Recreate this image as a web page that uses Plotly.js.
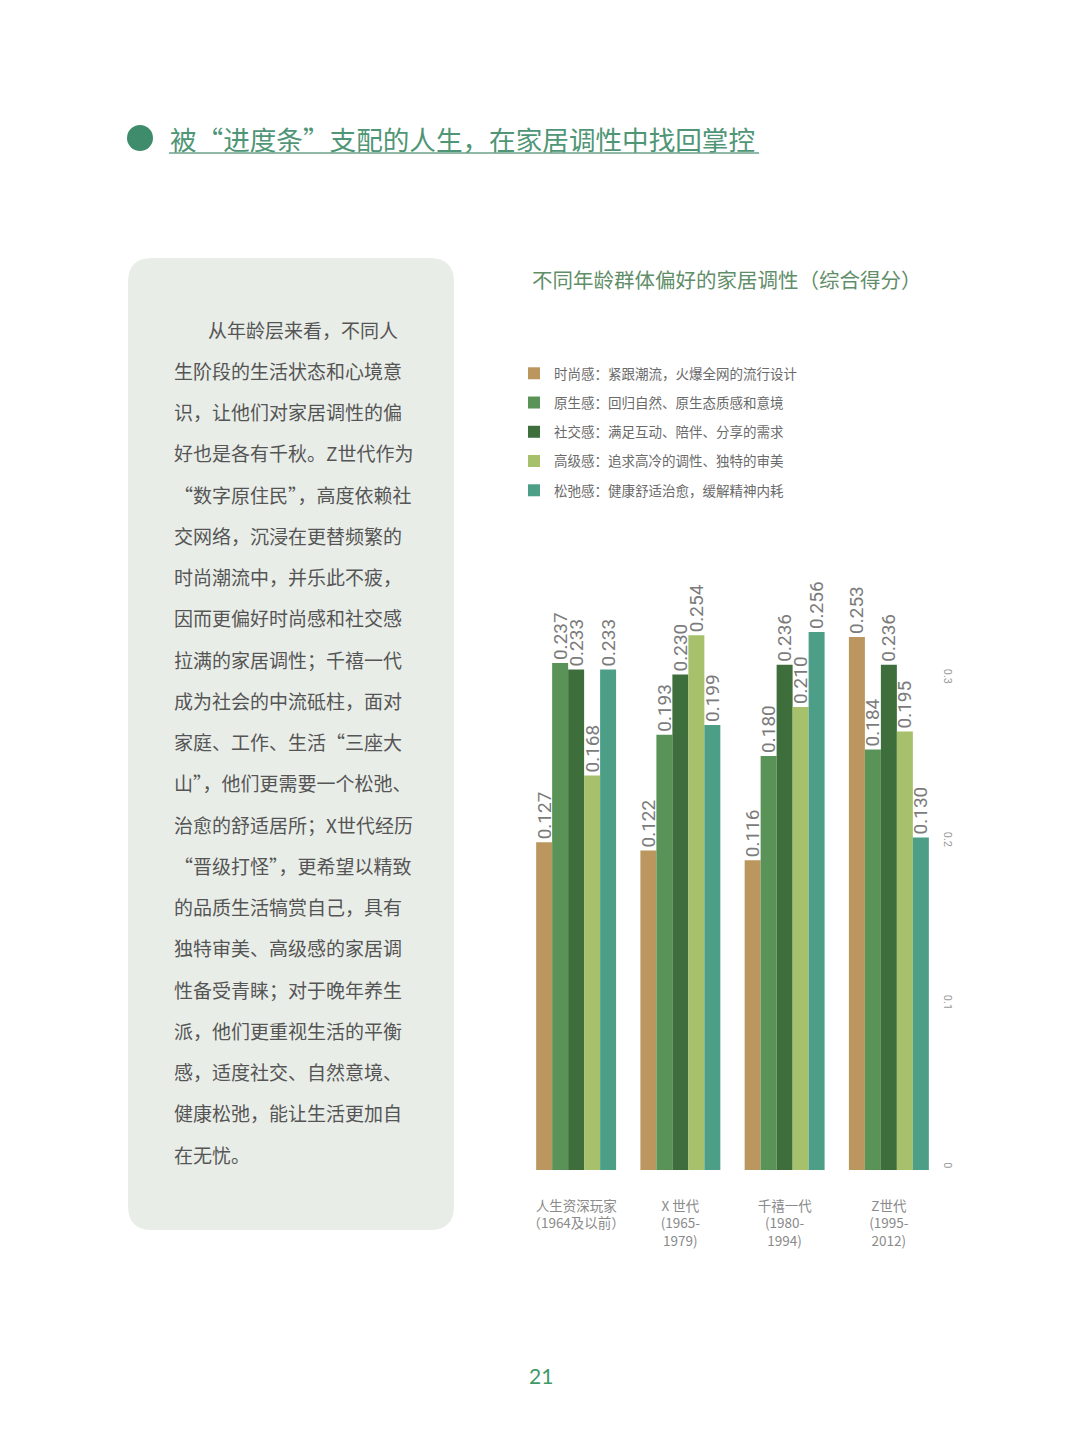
<!DOCTYPE html>
<html>
<head>
<meta charset="utf-8">
<script src="https://cdn.plot.ly/plotly-3.0.1.min.js"></script>
<style>
  html, body { margin: 0; padding: 0; background: #ffffff; }
  #chart { width: 1080px; height: 1439px; }
</style>
</head>
<body>
<div id="chart"></div>
<script>
// age groups (x categories)
var categories = [
  '人生资深玩家<br>（1964及以前）',
  'X 世代<br>(1965-<br>1979)',
  '千禧一代<br>(1980-<br>1994)',
  'Z世代<br>(1995-<br>2012)'
];

// scores per tonality, in category order
var fashion = [0.127, 0.122, 0.116, 0.253];
var natural = [0.237, 0.193, 0.180, 0.184];
var social  = [0.233, 0.230, 0.236, 0.236];
var premium = [0.168, 0.254, 0.210, 0.195];
var relaxed = [0.233, 0.199, 0.256, 0.130];

var seriesNames = [
  '时尚感：紧跟潮流，火爆全网的流行设计',
  '原生感：回归自然、原生态质感和意境',
  '社交感：满足互动、陪伴、分享的需求',
  '高级感：追求高冷的调性、独特的审美',
  '松弛感：健康舒适治愈，缓解精神内耗'
];
var seriesColors = ['#bb975f', '#5a9358', '#3e6e3c', '#a6c06c', '#4d9e86'];

var axisTicks = [0, 0.1, 0.2, 0.3];

var paragraph = [
  '从年龄层来看，不同人',
  '生阶段的生活状态和心境意',
  '识，让他们对家居调性的偏',
  '好也是各有千秋。Z世代作为',
  '“数字原住民”，高度依赖社',
  '交网络，沉浸在更替频繁的',
  '时尚潮流中，并乐此不疲，',
  '因而更偏好时尚感和社交感',
  '拉满的家居调性；千禧一代',
  '成为社会的中流砥柱，面对',
  '家庭、工作、生活“三座大',
  '山”，他们更需要一个松弛、',
  '治愈的舒适居所；X世代经历',
  '“晋级打怪”，更希望以精致',
  '的品质生活犒赏自己，具有',
  '独特审美、高级感的家居调',
  '性备受青睐；对于晚年养生',
  '派，他们更重视生活的平衡',
  '感，适度社交、自然意境、',
  '健康松弛，能让生活更加自',
  '在无忧。'
];

var W = 1080, H = 1439;
function px(x) { return x / W; }
function py(y) { return 1 - y / H; }

// the original bars start below the printed zero
var BAR_BASE = -0.074;

var cjk = '"Noto Sans CJK SC", "Noto Sans", sans-serif';

var allSeries = [fashion, natural, social, premium, relaxed];
var data = allSeries.map(function (vals, i) {
  return {
    type: 'bar',
    x: categories,
    y: vals.map(function (v) { return v - BAR_BASE; }),
    base: BAR_BASE,
    name: seriesNames[i],
    legendgroup: 'g' + i,
    text: vals.map(function (v) { return v.toFixed(3); }),
    textposition: 'outside',
    textangle: -90,
    constraintext: 'none',
    cliponaxis: false,
    textfont: { family: 'Roboto, sans-serif', size: 19, color: '#7b7b7b' },
    marker: { color: seriesColors[i] },
    hoverinfo: 'skip'
  };
});

// empty trace so the right-hand score axis is drawn
data.push({
  type: 'scatter', x: [categories[0]], y: [null], yaxis: 'y2',
  showlegend: false, hoverinfo: 'skip', mode: 'markers'
});

var annotations = [
  {
    text: '被“进度条”支配的人生，在家居调性中找回掌控',
    xref: 'paper', yref: 'paper', x: px(168), y: py(138),
    xanchor: 'left', yanchor: 'middle', showarrow: false,
    font: { family: cjk, size: 26.6, color: '#4f9676' }
  },
  {
    text: '不同年龄群体偏好的家居调性（综合得分）',
    xref: 'paper', yref: 'paper', x: px(530), y: py(279),
    xanchor: 'left', yanchor: 'middle', showarrow: false,
    font: { family: cjk, size: 20.5, color: '#5f8e69' }
  },
  {
    text: '21',
    xref: 'paper', yref: 'paper', x: px(541), y: py(1375),
    xanchor: 'center', yanchor: 'middle', showarrow: false,
    font: { family: 'Lato, sans-serif', size: 21, color: '#3f9a68' }
  }
];

paragraph.forEach(function (line, i) {
  annotations.push({
    text: line,
    xref: 'paper', yref: 'paper',
    x: px(i === 0 ? 206 : 172), y: py(329 + i * 41.25),
    xanchor: 'left', yanchor: 'middle', showarrow: false,
    font: { family: cjk, size: 19, color: '#555555' }
  });
});

// rounded text panel
function roundedRect(x0, y0, x1, y1, r) {
  return 'M' + px(x0 + r) + ',' + py(y0) +
    ' L' + px(x1 - r) + ',' + py(y0) +
    ' Q' + px(x1) + ',' + py(y0) + ' ' + px(x1) + ',' + py(y0 + r) +
    ' L' + px(x1) + ',' + py(y1 - r) +
    ' Q' + px(x1) + ',' + py(y1) + ' ' + px(x1 - r) + ',' + py(y1) +
    ' L' + px(x0 + r) + ',' + py(y1) +
    ' Q' + px(x0) + ',' + py(y1) + ' ' + px(x0) + ',' + py(y1 - r) +
    ' L' + px(x0) + ',' + py(y0 + r) +
    ' Q' + px(x0) + ',' + py(y0) + ' ' + px(x0 + r) + ',' + py(y0) + ' Z';
}

var shapes = [
  {
    type: 'path', xref: 'paper', yref: 'paper', layer: 'below',
    path: roundedRect(128, 258, 454, 1230, 24),
    fillcolor: '#e9ede8', line: { width: 0 }
  },
  {
    type: 'circle', xref: 'paper', yref: 'paper',
    x0: px(127), x1: px(153), y0: py(125), y1: py(151),
    fillcolor: '#3f8c6c', line: { width: 0 }
  },
  {
    type: 'line', xref: 'paper', yref: 'paper',
    x0: px(169), x1: px(759), y0: py(153), y1: py(153),
    line: { color: '#6aa088', width: 1.5 }
  }
];

var layout = {
  width: W, height: H,
  margin: { l: 0, r: 0, t: 0, b: 0 },
  paper_bgcolor: '#ffffff',
  plot_bgcolor: 'rgba(0,0,0,0)',
  barmode: 'group',
  bargap: 0.233,
  bargroupgap: 0,
  showlegend: true,
  legend: {
    x: px(514), y: py(358), xanchor: 'left', yanchor: 'top',
    traceorder: 'grouped', tracegroupgap: 8.7,
    font: { family: cjk, size: 13.5, color: '#6a6a6a' },
    bgcolor: 'rgba(0,0,0,0)', itemclick: false, itemdoubleclick: false
  },
  xaxis: {
    domain: [px(524), px(941)],
    type: 'category',
    showgrid: false, zeroline: false, showline: false, ticks: '',
    ticklabelstandoff: 26,
    tickfont: { family: cjk, size: 13.5, color: '#8a8a8a' },
    fixedrange: true
  },
  yaxis: {
    domain: [py(1170), py(560)],
    range: [BAR_BASE, BAR_BASE + 610 / 1630],
    visible: false,
    fixedrange: true
  },
  yaxis2: {
    overlaying: 'y', side: 'right', anchor: 'x',
    range: [-3 / 1630, -3 / 1630 + 610 / 1630],
    tickvals: axisTicks,
    ticktext: axisTicks.map(function (t) { return String(t); }),
    tickangle: 90,
    showgrid: false, zeroline: false, showline: false, ticks: '',
    tickfont: { family: 'Roboto, sans-serif', size: 11, color: '#9a9a9a' },
    fixedrange: true
  },
  annotations: annotations,
  shapes: shapes
};

Plotly.newPlot('chart', data, layout, { displayModeBar: false, staticPlot: true });
</script>
</body>
</html>
